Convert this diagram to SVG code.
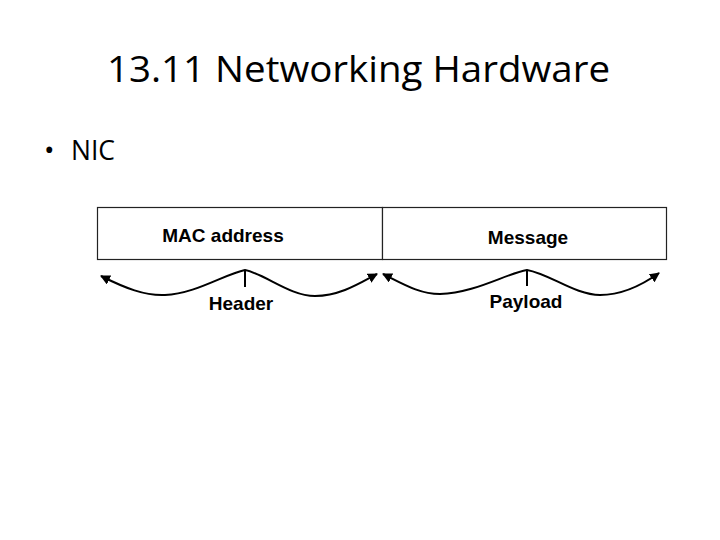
<svg xmlns="http://www.w3.org/2000/svg" width="720" height="540" viewBox="0 0 720 540">
  <style>
    .title { font-family: "Open Sans", "Liberation Sans", sans-serif; font-size: 37px; fill: #000; }
    .bullet { font-family: "Open Sans", "Liberation Sans", sans-serif; font-size: 28px; fill: #000; }
    .lbl { font-family: "Liberation Sans", Arial, sans-serif; font-size: 19px; font-weight: bold; fill: #000; text-anchor: middle; }
    .box { fill: #fff; stroke: #222; stroke-width: 1.2; }
    .brace { fill: none; stroke: #000; stroke-width: 2; marker-start: url(#ah); marker-end: url(#ah); }
    .stem { stroke: #000; stroke-width: 2; }
  </style>
  <defs>
    <marker id="ah" viewBox="0 0 10 10" refX="9" refY="5" markerWidth="5" markerHeight="5" orient="auto-start-reverse" markerUnits="strokeWidth">
      <path d="M0,0 L10,5 L0,10 z" fill="#000"/>
    </marker>
  </defs>
  <rect width="720" height="540" fill="#fff"/>
  <text class="title" x="107" y="82" textLength="503" lengthAdjust="spacingAndGlyphs">13.11 Networking Hardware</text>
  <text class="bullet" x="44" y="160">•</text>
  <text class="bullet" x="71" y="160" textLength="44" lengthAdjust="spacingAndGlyphs">NIC</text>
  <g id="header-field">
    <rect class="box" x="97.5" y="207.5" width="285" height="52"/>
    <text class="lbl" x="223" y="242">MAC address</text>
  </g>
  <g id="message-field">
    <rect class="box" x="382.5" y="207.5" width="284" height="52"/>
    <text class="lbl" x="528" y="244">Message</text>
  </g>
  <g id="connectors">
    <path class="brace" d="M101,276 C125,288 145,296 165,295 C195,294 225,274 245,270 C265,274 290,296 315,296 C340,296 360,283 377,274"/>
    <line class="stem" x1="245" y1="270" x2="245" y2="287"/>
    <path class="brace" d="M383,274 C405,285 420,294 440,294 C475,293 505,274 527,270 C550,274 575,295 600,295 C625,295 645,283 659,273"/>
    <line class="stem" x1="527" y1="270" x2="527" y2="286"/>
  </g>
  <g id="labels">
    <text class="lbl" x="241" y="310">Header</text>
    <text class="lbl" x="526" y="308">Payload</text>
  </g>
</svg>
